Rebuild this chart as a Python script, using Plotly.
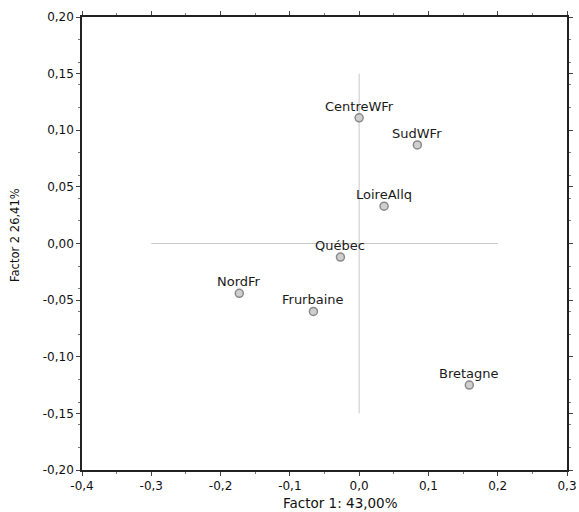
import plotly.graph_objects as go

labels = ["CentreWFr", "SudWFr", "LoireAllq", "Québec", "NordFr", "Frurbaine", "Bretagne"]
factor1 = [0.000, 0.084, 0.036, -0.027, -0.173, -0.066, 0.159]
factor2 = [0.111, 0.087, 0.033, -0.012, -0.044, -0.060, -0.125]

x_ticks = [-0.4, -0.3, -0.2, -0.1, 0.0, 0.1, 0.2, 0.3]
x_ticklabels = ["-0,4", "-0,3", "-0,2", "-0,1", "0,0", "0,1", "0,2", "0,3"]
y_ticks = [-0.20, -0.15, -0.10, -0.05, 0.00, 0.05, 0.10, 0.15, 0.20]
y_ticklabels = ["-0,20", "-0,15", "-0,10", "-0,05", "0,00", "0,05", "0,10", "0,15", "0,20"]

font = "DejaVu Sans"

fig = go.Figure()

fig.add_trace(go.Scatter(x=[-0.3, 0.2], y=[0, 0], mode="lines",
                         line=dict(color="#c8c8c8", width=1), hoverinfo="skip", showlegend=False))
fig.add_trace(go.Scatter(x=[0, 0], y=[-0.15, 0.15], mode="lines",
                         line=dict(color="#c8c8c8", width=1), hoverinfo="skip", showlegend=False))

fig.add_trace(go.Scatter(
    x=factor1, y=factor2, mode="markers",
    marker=dict(size=8, color="#cfcfcf", line=dict(color="#8a8a8a", width=1.5)),
    showlegend=False,
))

for lab, xv, yv in zip(labels, factor1, factor2):
    fig.add_annotation(x=xv, y=yv, text=lab, showarrow=False, yshift=11.5,
                       xanchor="center", yanchor="middle",
                       font=dict(family=font, size=13, color="#1a1a1a"))

axis_common = dict(
    showgrid=False, zeroline=False, showline=True, linecolor="#222", linewidth=1.5,
    mirror="ticks", ticks="outside", ticklen=4, tickcolor="#444", automargin=False,
    tickfont=dict(family=font, size=12, color="#111"),
    minor=dict(ticks="outside", ticklen=2, tickcolor="#777", nticks=5),
)

fig.update_xaxes(range=[-0.4, 0.3], tickvals=x_ticks, ticktext=x_ticklabels, **axis_common)
fig.update_yaxes(range=[-0.2, 0.2], tickvals=y_ticks, ticktext=y_ticklabels, **axis_common)

fig.add_annotation(text="Factor 1: 43,00%", xref="paper", yref="paper",
                   x=(340 - 82) / 485, y=-(503 - 470) / 453, xanchor="center", yanchor="middle",
                   showarrow=False, font=dict(family=font, size=13.5, color="#111"))
fig.add_annotation(text="Factor 2 26,41%", xref="paper", yref="paper", textangle=-90,
                   x=-(82 - 15) / 485, y=(470 - 235) / 453, xanchor="center", yanchor="middle",
                   showarrow=False, font=dict(family=font, size=11.5, color="#111"))

fig.update_layout(
    width=579, height=512,
    margin=dict(l=82, r=12, t=17, b=42),
    plot_bgcolor="white", paper_bgcolor="white",
)

fig.write_html("out.html")
